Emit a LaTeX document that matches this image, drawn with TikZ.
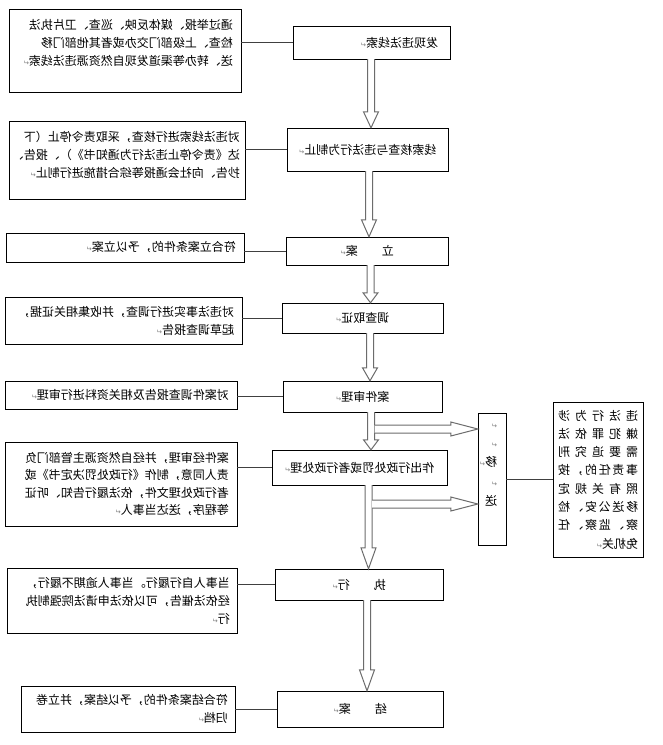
\documentclass[tikz,border=0pt]{standalone}
\usepackage{fontspec}
\usepackage{graphicx}
\setmainfont{Noto Sans CJK SC}
\newfontfamily\symboles{DejaVu Sans}
\usetikzlibrary{calc}
\newcommand{\retour}{{\symboles\fontsize{7}{7}\selectfont\textcolor{gray}{↵}}}
\newcommand{\miroir}[2]{\reflectbox{\parbox{#1}{#2}}}
\newcommand{\miroirhaut}[3]{\reflectbox{\parbox[c][#2][t]{#1}{#3}}}
\begin{document}
\begin{tikzpicture}[x=1pt,y=-1pt]
% Styles
\tikzstyle{cadre}=[draw=black,thin,inner sep=0pt,font=\fontsize{12}{18}\selectfont]
\tikzstyle{liaison}=[draw=black!75,thin]
\tikzstyle{bloc}=[draw=gray!85!black,line width=1pt,fill=white,line join=miter]
\tikzset{taille/.style 2 args={minimum width=#1pt,minimum height=#2pt}}
% Fleches en bloc
\def\lrgTige{3.5pt}
\def\lrgTete{7.5pt}
\def\flecheBas#1#2#3#4{\draw[bloc] let \p1=(#1.south), \p2=(#2.north), \p3=(#3,0) in
  (\x3-\lrgTige,\y1) -- (\x3-\lrgTige,\y2+#4) -- (\x3-\lrgTete,\y2+#4) -- (\x3,\y2)
  -- (\x3+\lrgTete,\y2+#4) -- (\x3+\lrgTige,\y2+#4) -- (\x3+\lrgTige,\y1);}
\def\flecheDroite#1#2#3{\draw[bloc] let \p1=(#1), \p2=(#2.west) in
  (\x1,\y1+4pt) -- (\x2-#3,\y1+4pt) -- (\x2-#3,\y1+7pt) -- (\x2,\y1)
  -- (\x2-#3,\y1-7pt) -- (\x2-#3,\y1-4pt) -- (\x1,\y1-4pt);}
% Cadre general
\fill[white] (0,0) rectangle (663,745);
% Colonne des etapes
\node[cadre,taille={157}{33}] (decouverte) at (371.5,42.5) {\miroir{133pt}{\raggedright 发现违法线索\retour}};
\node[cadre,taille={161}{43}] (verification) at (367.5,149.5) {\miroir{150pt}{\centering 线索核查与违法行为制止\retour}};
\node[cadre,taille={162}{28}] (dossier) at (367,251) {\miroir{140pt}{\centering 立　　案\retour}};
\node[cadre,taille={161}{30}] (enquete) at (362.5,318) {\miroir{140pt}{\centering 调查取证\retour}};
\node[cadre,taille={159}{31}] (examen) at (362.5,396.5) {\miroir{140pt}{\centering 案件审理\retour}};
\node[cadre,taille={175}{35}] (decision) at (359.5,467.5) {\miroir{160pt}{\centering 作出行政处罚或者行政处理\retour}};
\node[cadre,taille={168}{31}] (execution) at (359,584.5) {\miroir{140pt}{\centering 执　　行\retour}};
\node[cadre,taille={166}{36}] (cloture) at (360,709) {\miroir{140pt}{\centering 结　　案\retour}};
% Colonne des explications
\node[cadre,taille={232}{83}] (srcDecouverte) at (125,50.5) {\miroirhaut{216pt}{63pt}{\raggedright 通过举报、媒体反映、巡查、卫片执法\\检查、上级部门交办或者其他部门移\\送、转办等渠道发现自然资源违法线索\retour}};
\node[cadre,taille={236}{78}] (srcVerification) at (127,160) {\miroirhaut{226pt}{58pt}{\raggedright 对违法线索进行核查，采取责令停止（下\\达《责令停止违法行为通知书》）、报告、\\抄告、向社会通报等综合措施进行制止\retour}};
\node[cadre,taille={238}{29}] (srcDossier) at (125,247.5) {\miroir{222pt}{\raggedright 符合立案条件的，予以立案\retour}};
\node[cadre,taille={237}{47}] (srcEnquete) at (123.5,320.5) {\miroir{221pt}{\raggedright 对违法事实进行调查，并收集相关证据，\\起草调查报告\retour}};
\node[cadre,taille={232}{28}] (srcExamen) at (121,395) {\miroir{216pt}{\raggedright 对案件调查报告及相关资料进行审理\retour}};
\node[cadre,taille={232}{84}] (srcDecision) at (121,484) {\miroir{216pt}{\fontsize{12}{17.5}\selectfont\raggedright 案件经审理，并经自然资源主管部门负\\责人同意，制作《行政处罚决定书》或\\者行政处理文件，依法履行告知、听证\\等程序，送达当事人\retour}};
\node[cadre,taille={230}{65}] (srcExecution) at (122,600.5) {\miroir{216pt}{\raggedright 当事人自行履行。当事人逾期不履行，\\经依法催告，可以依法申请法院强制执\\行\retour}};
\node[cadre,taille={214}{46}] (srcCloture) at (128,709) {\miroir{200pt}{\raggedright 符合结案条件的，予以结案，并立卷\\归档\retour}};
% Transfert
\node[cadre,taille={28}{132}] (transfert) at (492,479) {\miroirhaut{10pt}{128pt}{\fontsize{12}{19.25}\selectfont\raggedright\strut\retour\\\strut\retour\\\strut 移\retour\\\strut\retour\\\strut 送}};
\node[cadre,taille={90}{155}] (suite) at (598,479.5) {\miroir{80pt}{\fontsize{12}{18.3}\selectfont\raggedright
  \makebox[80pt][s]{违\hfill 法\hfill 行\hfill 为\hfill 涉}\\
  \makebox[80pt][s]{嫌\hfill 犯\hfill 罪\hfill 依\hfill 法}\\
  \makebox[80pt][s]{需\hfill 要\hfill 追\hfill 究\hfill 刑}\\
  \makebox[80pt][s]{事\hfill 责\hfill 任\hfill 的\hfill ，\hfill 按}\\
  \makebox[80pt][s]{照\hfill 有\hfill 关\hfill 规\hfill 定}\\
  \makebox[80pt][s]{移\hfill 送\hfill 公\hfill 安\hfill 、\hfill 检}\\
  \makebox[80pt][s]{察\hfill 、\hfill 监\hfill 察\hfill 、\hfill 任}\\
  \makebox[80pt][l]{免机关\retour}}};
% Liaisons
\draw[liaison] (decouverte.west) -- (decouverte.west -| srcDecouverte.east);
\draw[liaison] (verification.west) -- (verification.west -| srcVerification.east);
\draw[liaison] (dossier.west) -- (dossier.west -| srcDossier.east);
\draw[liaison] (enquete.west) -- (enquete.west -| srcEnquete.east);
\draw[liaison] (examen.west) -- (examen.west -| srcExamen.east);
\draw[liaison] (decision.west) -- (decision.west -| srcDecision.east);
\draw[liaison] (execution.west) -- (execution.west -| srcExecution.east);
\draw[liaison] (cloture.west) -- (cloture.west -| srcCloture.east);
\draw[liaison] (transfert.east) -- (transfert.east -| suite.west);
% Fleches
\flecheBas{decouverte}{verification}{371}{16pt}
\flecheBas{verification}{dossier}{369}{17pt}
\flecheBas{dossier}{enquete}{370.5}{10pt}
\flecheBas{enquete}{examen}{370}{13pt}
\flecheBas{examen}{decision}{371}{10pt}
\flecheBas{decision}{execution}{368.5}{21pt}
\flecheBas{execution}{cloture}{367}{21pt}
\coordinate (brancheHaut) at (374.5,429);
\coordinate (brancheBas) at (372,504);
\flecheDroite{brancheHaut}{transfert}{27pt}
\flecheDroite{brancheBas}{transfert}{27pt}
\end{tikzpicture}
\end{document}
